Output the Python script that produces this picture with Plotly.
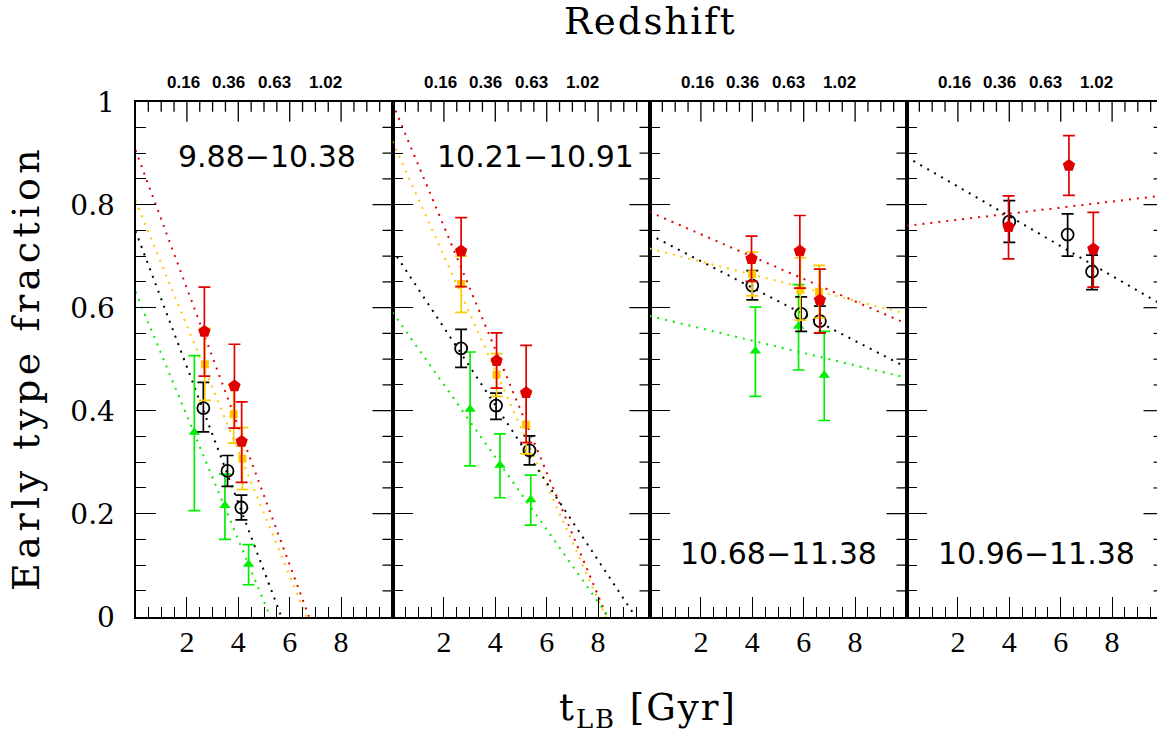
import numpy as np
import plotly.graph_objects as go

# ---------------- data (one entry per panel) ----------------
panel_labels = ["9.88\u221210.38", "10.21\u221210.91", "10.68\u221211.38", "10.96\u221211.38"]
bottom_tick_vals = [2, 4, 6, 8]
bottom_tick_text = ["2", "4", "6", "8"]
redshift_tick_pos = [1.85, 3.6, 5.42, 7.38]      # lookback time (Gyr) where redshift labels sit
redshift_tick_text = ["0.16", "0.36", "0.63", "1.02"]
y_tick_vals = [0, 0.2, 0.4, 0.6, 0.8, 1.0]
y_tick_text = ["0", "0.2", "0.4", "0.6", "0.8", "1"]

# red pentagons
red_t = [[2.68, 3.85, 4.13], [2.67, 4.05, 5.20], [3.97, 5.85, 6.63], [3.97, 6.32, 7.27]]
red_f = [[0.554, 0.448, 0.340], [0.710, 0.497, 0.435], [0.695, 0.710, 0.615], [0.757, 0.876, 0.714]]
red_hi = [[0.640, 0.529, 0.417], [0.775, 0.551, 0.527], [0.739, 0.779, 0.675], [0.817, 0.934, 0.785]]
red_lo = [[0.467, 0.366, 0.261], [0.641, 0.444, 0.338], [0.651, 0.638, 0.551], [0.695, 0.818, 0.640]]

# gold squares
gold_t = [[2.70, 3.82, 4.16], [2.67, 4.05, 5.20], [3.99, 5.87, 6.60], []]
gold_f = [[0.490, 0.393, 0.307], [0.646, 0.470, 0.373], [0.665, 0.635, 0.631], []]
gold_hi = [[0.560, 0.450, 0.367], [0.700, 0.511, 0.434], [0.708, 0.697, 0.682], []]
gold_lo = [[0.420, 0.337, 0.247], [0.591, 0.428, 0.316], [0.623, 0.576, 0.580], []]

# black open circles
black_t = [[2.64, 3.58, 4.12], [2.67, 4.03, 5.33], [4.00, 5.90, 6.63], [4.00, 6.27, 7.22]]
black_f = [[0.405, 0.283, 0.212], [0.521, 0.410, 0.323], [0.643, 0.588, 0.574], [0.767, 0.742, 0.670]]
black_hi = [[0.455, 0.313, 0.236], [0.558, 0.434, 0.351], [0.672, 0.621, 0.603], [0.808, 0.782, 0.702]]
black_lo = [[0.359, 0.253, 0.188], [0.484, 0.383, 0.295], [0.615, 0.554, 0.551], [0.727, 0.700, 0.635]]

# green triangles
green_t = [[2.29, 3.48, 4.40], [3.02, 4.18, 5.38], [4.12, 5.80, 6.80], []]
green_f = [[0.358, 0.216, 0.102], [0.403, 0.294, 0.227], [0.516, 0.564, 0.469], []]
green_hi = [[0.507, 0.277, 0.140], [0.514, 0.355, 0.275], [0.601, 0.645, 0.554], []]
green_lo = [[0.206, 0.150, 0.062], [0.293, 0.231, 0.178], [0.428, 0.479, 0.381], []]

# linear fits: fraction = intercept + slope * t_LB   (None = no fit in panel)
red_fit = [(0.906, -0.1342), (0.997, -0.1195), (0.786, -0.0217), (0.759, 0.0059)]
gold_fit = [(0.808, -0.1215), (0.923, -0.1112), (0.715, -0.0127), None]
black_fit = [(0.749, -0.1320), (0.712, -0.0753), (0.742, -0.0258), (0.893, -0.0289)]
green_fit = [(0.631, -0.1204), (0.591, -0.0703), (0.584, -0.0120), None]

# ---------------- styling ----------------
W, H = 1157, 742
RED, GOLD, BLACK, GREEN = "#e00000", "#ffc800", "#000000", "#00ee00"
SERIF = "DejaVu Serif"
SANS = "DejaVu Sans"

PX_PER_GYR = 25.7
PANEL_SPAN = 10.0                     # full x span of each panel (Gyr)
Y_MAX = 1.0
panel_left = [135.5, 392.5, 649.5, 906.5]
y_top_px, y_bot_px = 101.7, 616.7
ydom = [(H - y_bot_px) / H, (H - y_top_px) / H]
PX_PER_UNIT_Y = (y_bot_px - y_top_px) / Y_MAX
MAJOR_LEN, MINOR_LEN = 20, 10
X_MINOR, Y_MINOR = 0.5, 0.05

series = [
    dict(t=green_t, f=green_f, hi=green_hi, lo=green_lo, fit=green_fit,
         color=GREEN, symbol="triangle-up", size=10, open=False),
    dict(t=black_t, f=black_f, hi=black_hi, lo=black_lo, fit=black_fit,
         color=BLACK, symbol="circle-open", size=12, open=True),
    dict(t=gold_t, f=gold_f, hi=gold_hi, lo=gold_lo, fit=gold_fit,
         color=GOLD, symbol="square", size=8, open=False),
    dict(t=red_t, f=red_f, hi=red_hi, lo=red_lo, fit=red_fit,
         color=RED, symbol="pentagon", size=13, open=False),
]

fig = go.Figure()
layout = dict(
    width=W, height=H, autosize=False,
    margin=dict(l=0, r=0, t=0, b=0, pad=0, autoexpand=False),
    paper_bgcolor="white", plot_bgcolor="white", showlegend=False,
)

def ax_id(letter, n):
    return letter if n == 1 else f"{letter}{n}"

def ax_key(letter, n):
    return f"{letter}axis" if n == 1 else f"{letter}axis{n}"

TICK = dict(ticks="inside", ticklen=MAJOR_LEN, tickwidth=1.2, tickcolor="black")
MINOR_X = dict(tickmode="linear", tick0=0, dtick=X_MINOR, ticks="inside", ticklen=MINOR_LEN,
               tickwidth=1.2, tickcolor="black", showgrid=False)
MINOR_Y = dict(tickmode="linear", tick0=0, dtick=Y_MINOR, ticks="inside", ticklen=MINOR_LEN,
               tickwidth=1.2, tickcolor="black", showgrid=False)

shapes = []
xranges = []
for i in range(4):
    left = panel_left[i]
    right = min(left + PANEL_SPAN * PX_PER_GYR, W)
    xr = [0, (right - left) / PX_PER_GYR]
    xranges.append(xr)
    n = i + 1
    xid, yid = ax_id("x", n), ax_id("y", n)
    layout[ax_key("x", n)] = dict(
        domain=[left / W, right / W], range=xr, anchor=yid,
        showline=True, linewidth=2, linecolor="black", mirror=True, **TICK,
        tickmode="array", tickvals=bottom_tick_vals, ticktext=bottom_tick_text,
        tickfont=dict(family="Liberation Serif", size=30, color="black"),
        ticklabelstandoff=-3, minor=MINOR_X,
        showgrid=False, zeroline=False, fixedrange=True, automargin=False,
    )
    layout[ax_key("y", n)] = dict(
        domain=ydom, range=[0, Y_MAX], anchor=xid,
        showline=True, linewidth=2, linecolor="black", mirror=(i < 3), **TICK,
        tickmode="array", tickvals=y_tick_vals, ticktext=y_tick_text,
        showticklabels=(i == 0),
        tickfont=dict(family=SERIF, size=28, color="black"),
        ticklabelstandoff=13, minor=MINOR_Y,
        showgrid=False, zeroline=False, fixedrange=True, automargin=False,
    )
    # ticks along the top frame (pointing down): one path shape in paper units
    path = []
    top_y = ydom[1]
    for k in range(1, int(round(xr[1] / X_MINOR)) + 1):
        v = k * X_MINOR
        if v >= xr[1] - 1e-9:
            continue
        ln = MAJOR_LEN if any(abs(v - m) < 1e-9 for m in bottom_tick_vals) else MINOR_LEN
        xp = (left + v * PX_PER_GYR) / W
        path.append(f"M{xp:.5f},{top_y:.5f} L{xp:.5f},{top_y - ln / H:.5f}")
    shapes.append(dict(type="path", xref="paper", yref="paper", path=" ".join(path),
                       line=dict(color="black", width=1.3), layer="above"))
    # ticks along the right frame (pointing left)
    for k in range(1, int(round(Y_MAX / Y_MINOR))):
        v = k * Y_MINOR
        ln = MAJOR_LEN if any(abs(v - m) < 1e-9 for m in y_tick_vals) else MINOR_LEN
        shapes.append(dict(type="line", xref=xid, yref=yid,
                           x0=PANEL_SPAN, x1=PANEL_SPAN - ln / PX_PER_GYR, y0=v, y1=v,
                           line=dict(color="black", width=1.2), layer="above"))

# ---- fit lines (behind markers)
for i in range(4):
    xref, yref = ax_id("x", i + 1), ax_id("y", i + 1)
    tt = np.array(xranges[i])
    for s in [series[3], series[2], series[1], series[0]]:
        fit = s["fit"][i]
        if fit is None:
            continue
        a, b = fit
        fig.add_trace(go.Scatter(
            x=tt, y=a + b * tt, mode="lines", xaxis=xref, yaxis=yref,
            line=dict(color=s["color"], width=2, dash="2px,6px"), hoverinfo="skip",
        ))

# ---- data points with error bars
for i in range(4):
    xref, yref = ax_id("x", i + 1), ax_id("y", i + 1)
    for s in series:
        t = np.array(s["t"][i], dtype=float)
        if t.size == 0:
            continue
        f = np.array(s["f"][i])
        hi = np.array(s["hi"][i])
        lo = np.array(s["lo"][i])
        marker = dict(symbol=s["symbol"], size=s["size"], color=s["color"])
        marker["line"] = dict(color=s["color"], width=1.8) if s["open"] else dict(width=0)
        fig.add_trace(go.Scatter(
            x=t, y=f, mode="markers", xaxis=xref, yaxis=yref, marker=marker,
            error_y=dict(type="data", symmetric=False, array=hi - f, arrayminus=f - lo,
                         color=s["color"], thickness=1.7, width=6),
            cliponaxis=False,
        ))

annotations = []
for i in range(4):
    for pos, txt in zip(redshift_tick_pos, redshift_tick_text):
        annotations.append(dict(
            text=txt, xref=ax_id("x", i + 1), yref="paper", x=pos, y=1 - 82 / H,
            showarrow=False, xanchor="center", yanchor="middle",
            font=dict(family="Liberation Sans", size=17, color="black", weight="bold"),
        ))

label_pos = [(0.51, 0.893), (0.555, 0.893), (0.5, 0.122), (0.52, 0.122)]
for i, txt in enumerate(panel_labels):
    n = i + 1
    annotations.append(dict(
        text=txt, xref=ax_id("x", n) + " domain", yref=ax_id("y", n) + " domain",
        x=label_pos[i][0], y=label_pos[i][1], showarrow=False,
        xanchor="center", yanchor="middle",
        font=dict(family=SANS, size=30, color="black"),
    ))

annotations += [
    dict(text='<span style="letter-spacing:2px">Redshift</span>', xref="paper", yref="paper",
         x=650 / W, y=1 - 22 / H, showarrow=False, xanchor="center", yanchor="middle",
         font=dict(family=SERIF, size=37, color="black")),
    dict(text='<span style="letter-spacing:2px">t<sub>LB</sub> [Gyr]</span>', xref="paper",
         yref="paper", x=648 / W, y=1 - 710 / H, showarrow=False,
         xanchor="center", yanchor="middle",
         font=dict(family=SERIF, size=37, color="black")),
    dict(text='<span style="letter-spacing:4.5px">Early type fraction</span>', xref="paper",
         yref="paper", x=26 / W, y=1 - 368 / H, showarrow=False,
         xanchor="center", yanchor="middle", textangle=-90,
         font=dict(family=SERIF, size=38, color="black")),
]
layout["annotations"] = annotations
layout["shapes"] = shapes

fig.update_layout(**layout)
fig.write_html(
    "out.html",
    config=dict(displayModeBar=False),
    post_script="document.body.style.margin='0';document.body.style.overflow='hidden';",
)
